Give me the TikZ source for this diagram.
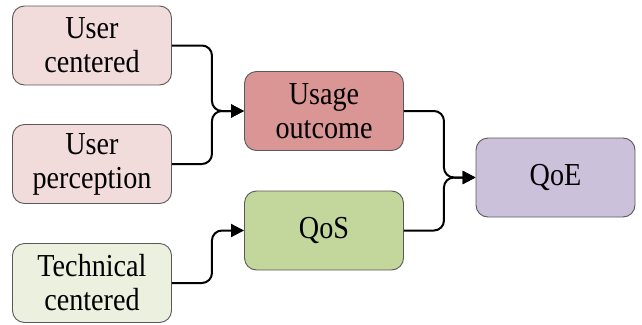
\documentclass[tikz,border=0pt]{standalone}
\usepackage{fontspec}
\setmainfont{Liberation Serif}[FakeStretch=0.88]
\usetikzlibrary{arrows.meta}
\definecolor{pinkL}{HTML}{F2DCDB}
\definecolor{pinkD}{HTML}{D99694}
\definecolor{greenL}{HTML}{EBF1DE}
\definecolor{greenD}{HTML}{C3D69B}
\definecolor{purp}{HTML}{CCC1DA}
\definecolor{edge}{HTML}{595959}
\tikzset{
  box/.style={draw=edge, line width=0.9pt, rounded corners=12pt, minimum width=159pt, minimum height=79pt, inner sep=0pt, align=center, font=\fontsize{32}{34}\selectfont},
  conn/.style={draw=black, line width=2pt, rounded corners=10pt, -{Triangle[length=13pt,width=13pt]}}
}
\begin{document}
\begin{tikzpicture}[x=1pt,y=-1pt]
\useasboundingbox (0,0) rectangle (642,324);
\node[box, fill=pinkL] (uc) at (92,45.5) {User\\centered};
\node[box, fill=pinkL] (up) at (92,164) {User\\perception};
\node[box, fill=greenL] (tc) at (92,283) {Technical\\centered};
\node[box, fill=pinkD] (uo) at (324,111) {Usage\\outcome};
\node[box, fill=greenD] (qos) at (324,230.5) {QoS};
\node[box, fill=purp] (qoe) at (555.5,177.5) {QoE};
\draw[conn] (uc.east) -- ++(40,0) |- (uo.west);
\draw[conn] (up.east) -- ++(40,0) |- (uo.west);
\draw[conn] (tc.east) -- ++(40,0) |- (qos.west);
\draw[conn] (uo.east) -- ++(40,0) |- (qoe.west);
\draw[conn] (qos.east) -- ++(40,0) |- (qoe.west);
\end{tikzpicture}
\end{document}
